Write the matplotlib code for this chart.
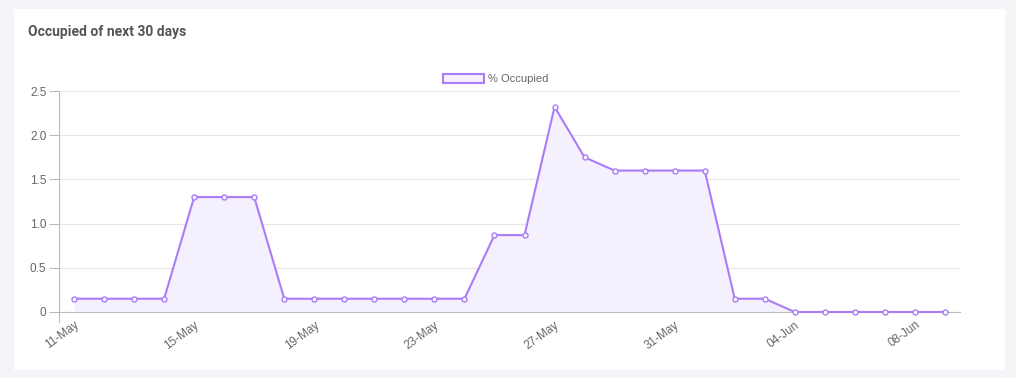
import matplotlib.pyplot as plt
from matplotlib.patches import Rectangle, Patch
import numpy as np

plt.rcParams['font.family'] = ['Liberation Sans', 'DejaVu Sans']

# data
dates = ['11-May', '12-May', '13-May', '14-May', '15-May', '16-May', '17-May', '18-May',
         '19-May', '20-May', '21-May', '22-May', '23-May', '24-May', '25-May', '26-May',
         '27-May', '28-May', '29-May', '30-May', '31-May', '01-Jun', '02-Jun', '03-Jun',
         '04-Jun', '05-Jun', '06-Jun', '07-Jun', '08-Jun', '09-Jun']
occupied = [0.15, 0.15, 0.15, 0.15, 1.3, 1.3, 1.3, 0.15,
            0.15, 0.15, 0.15, 0.15, 0.15, 0.15, 0.87, 0.87,
            2.32, 1.75, 1.6, 1.6, 1.6, 1.6, 0.15, 0.15,
            0, 0, 0, 0, 0, 0]
y_ticks = [0, 0.5, 1.0, 1.5, 2.0, 2.5]
y_labels = ['0', '0.5', '1.0', '1.5', '2.0', '2.5']

W, H = 1016, 378
fig = plt.figure(figsize=(W / 100, H / 100), dpi=100)
fig.patch.set_facecolor('#f4f5f8')

# white card
card = Rectangle((14 / W, 1 - 370 / H), (1005 - 14) / W, (370 - 9) / H,
                 transform=fig.transFigure, facecolor='white', edgecolor='none', zorder=-10)
fig.patches.append(card)

fig.text(28 / W, 1 - 32 / H, 'Occupied of next 30 days', fontsize=10, fontweight='bold',
         color='#555555', va='center', ha='left', family='Roboto')

ax = fig.add_axes([59 / W, 1 - 312 / H, (960 - 59) / W, (312 - 91) / H])
ax.set_facecolor('none')

line_c = '#a97cf8'
fill_c = '#f4f0fd'
x = np.arange(len(dates))
ax.fill_between(x, occupied, 0, color=fill_c, zorder=1, linewidth=0)
ax.plot(x, occupied, color=line_c, lw=1.5, marker='o', ms=3.6, mfc='white',
        mec=line_c, mew=1.0, zorder=3, clip_on=False)

ax.set_xlim(-0.5, len(dates) - 0.5)
ax.set_ylim(0, 2.5)
ax.set_yticks(y_ticks)
ax.set_yticklabels(y_labels)
ax.grid(axis='y', color='#e6e6e6', lw=0.8)
ax.set_axisbelow(True)

shown = list(range(0, len(dates), 4))
ax.set_xticks(shown)
ax.set_xticklabels([dates[i] for i in shown], rotation=36, ha='right', rotation_mode='anchor')
ax.tick_params(axis='x', length=0, pad=5, labelsize=8.5, colors='#666666')
ax.tick_params(axis='y', length=7, pad=2, labelsize=8.5, colors='#666666', color='#bbbbbb')
for lbl in ax.get_xticklabels():
    lbl.set_x(lbl.get_position()[0])

for s in ['top', 'right']:
    ax.spines[s].set_visible(False)
ax.spines['left'].set_color('#bbbbbb')
ax.spines['bottom'].set_color('#bbbbbb')
ax.spines['left'].set_bounds(-0.11, 2.5)

leg = ax.legend(handles=[Patch(facecolor=fill_c, edgecolor=line_c, lw=1.5, label='% Occupied')],
                loc='lower center', bbox_to_anchor=(0.4845, 0.985), frameon=False,
                handlelength=3.7, handleheight=0.85, handletextpad=0.4, fontsize=8)
for t in leg.get_texts():
    t.set_color('#666666')

fig.savefig('out.png', dpi=100, facecolor=fig.get_facecolor())
